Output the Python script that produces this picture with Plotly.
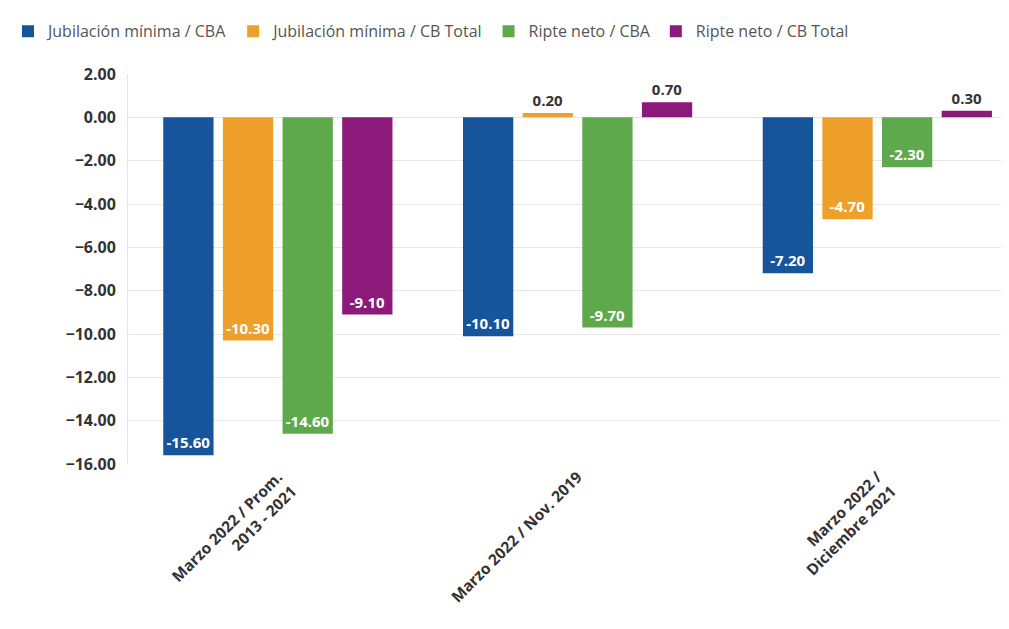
import plotly.graph_objects as go

categories = ["Marzo 2022 / Prom.<br>2013 - 2021", "Marzo 2022 / Nov. 2019", "Marzo 2022 /<br>Diciembre 2021"]
series_names = ["Jubilación mínima / CBA", "Jubilación mínima / CB Total", "Ripte neto / CBA", "Ripte neto / CB Total"]
jub_cba = [-15.6, -10.1, -7.2]
jub_cbt = [-10.3, 0.2, -4.7]
ripte_cba = [-14.6, -9.7, -2.3]
ripte_cbt = [-9.1, 0.7, 0.3]
series_values = [jub_cba, jub_cbt, ripte_cba, ripte_cbt]
colors = ["#16549c", "#eea02b", "#5fa94d", "#8c1a7b"]
y_ticks = [2, 0, -2, -4, -6, -8, -10, -12, -14, -16]

FONT = "Open Sans"

fig = go.Figure()
for name, vals, col in zip(series_names, series_values, colors):
    fig.add_trace(go.Bar(
        x=list(range(len(categories))),
        y=vals,
        name=name,
        marker=dict(color=col, line=dict(width=0)),
        text=[f"{v:.2f}" for v in vals],
        textposition=["inside" if v < 0 else "outside" for v in vals],
        insidetextanchor="end",
        insidetextfont=dict(color="white", size=15, family=FONT, weight="bold"),
        outsidetextfont=dict(color="#333333", size=15, family=FONT, weight="bold"),
        constraintext="none",
        cliponaxis=False,
    ))

fig.update_layout(
    width=1009, height=629,
    margin=dict(l=120, r=0, t=66, b=173),
    paper_bgcolor="white", plot_bgcolor="white",
    barmode="group", bargap=0.204, bargroupgap=0.157,
    font=dict(family=FONT, color="#333333"),
    legend=dict(
        orientation="h", x=0.0, xanchor="left", y=0.99, yanchor="top",
        yref="container", xref="container",
        font=dict(size=16, color="#555555", family=FONT),
        itemwidth=30, tracegroupgap=0,
        bgcolor="rgba(0,0,0,0)",
    ),
    showlegend=True,
)
fig.update_xaxes(
    tickmode="array", tickvals=list(range(len(categories))), ticktext=categories,
    range=[-0.5, 2.466], tickangle=-45,
    tickfont=dict(size=15.5, color="#333333", family=FONT, weight="bold"),
    showgrid=False, showline=False, zeroline=False, ticks="",
)
fig.update_yaxes(
    range=[-16, 2], tickmode="array", tickvals=y_ticks,
    tickformat=".2f",
    tickfont=dict(size=16, color="#333333", family=FONT, weight="bold"),
    showgrid=True, gridcolor="#e6e6e6", gridwidth=1,
    zeroline=False, showline=True, linecolor="#e6e6e6", ticks="", ticklabelstandoff=8,
)

fig.write_html("out.html")
